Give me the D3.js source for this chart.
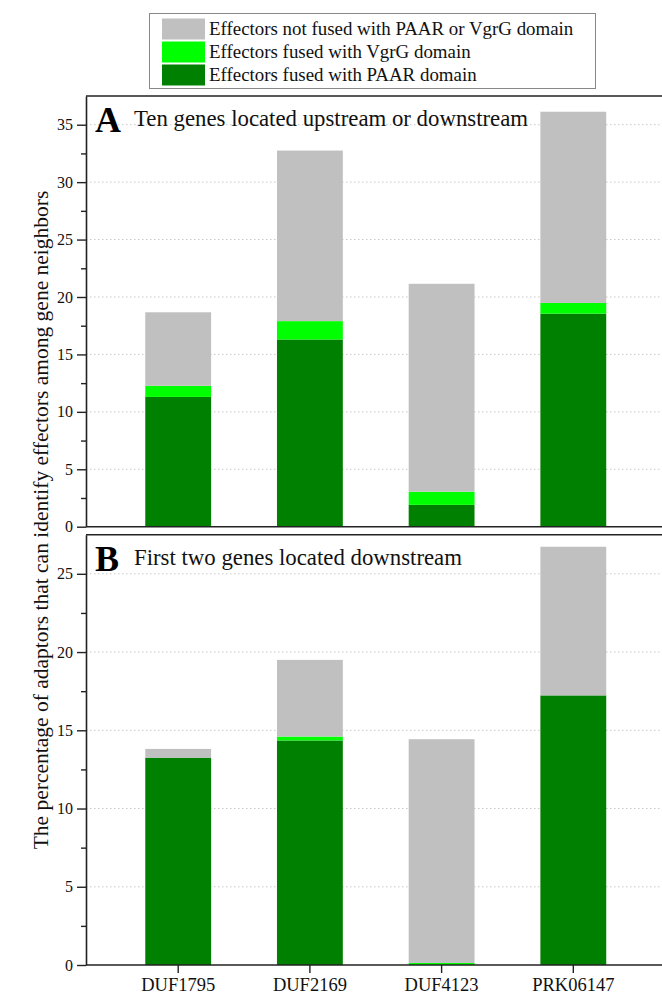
<!DOCTYPE html>
<html>
<head>
<meta charset="utf-8">
<script src="https://cdn.jsdelivr.net/npm/d3@7"></script>
<style>
  body { margin: 0; background: #fff; }
  svg { display: block; }
  svg text { font-family: "Liberation Serif", "Times New Roman", serif !important; }
</style>
</head>
<body>
<svg id="chart" width="662" height="996"></svg>
<script>
// categories and series (percent of adaptors)
const categories = ["DUF1795", "DUF2169", "DUF4123", "PRK06147"];
const seriesKeys = ["paar", "vgrg", "notFused"];
const seriesLabels = {
  notFused: "Effectors not fused with PAAR or VgrG domain",
  vgrg: "Effectors fused with VgrG domain",
  paar: "Effectors fused with PAAR domain"
};
const colors = { paar: "#008000", vgrg: "#00ff00", notFused: "#c0c0c0" };

// panel A: ten genes upstream or downstream
const paarA = [11.3, 16.3, 1.9, 18.55];
const vgrgA = [0.97, 1.6, 1.15, 0.93];
const notFusedA = [6.4, 14.85, 18.1, 16.65];
// panel B: first two genes downstream
const paarB = [13.25, 14.35, 0, 17.23];
const vgrgB = [0, 0.25, 0.13, 0];
const notFusedB = [0.56, 4.9, 14.3, 9.5];

const ticksA = [0, 5, 10, 15, 20, 25, 30, 35];
const ticksB = [0, 5, 10, 15, 20, 25];

const root = d3.select("#chart");
const left = 86, right = 665.5;

const x = d3.scaleBand()
  .domain(categories)
  .range([left, right])
  .paddingInner(0.5)
  .paddingOuter(0.45);

function rows(paar, vgrg, notFused) {
  return categories.map((c, i) => ({ cat: c, paar: paar[i], vgrg: vgrg[i], notFused: notFused[i] }));
}

function drawPanel(data, ymax, ticks, top, bottom, letter, title, showXAxis) {
  const y = d3.scaleLinear().domain([0, ymax]).range([bottom, top]);
  const g = root.append("g");

  // dotted grid
  g.selectAll("line.grid")
    .data(ticks.filter(t => t > 0))
    .join("line")
    .attr("x1", left).attr("x2", 662)
    .attr("y1", d => y(d)).attr("y2", d => y(d))
    .attr("stroke", "#c8c8c8")
    .attr("stroke-dasharray", "1.5,2.5");

  // stacked bars
  const stacked = d3.stack().keys(seriesKeys)(data);
  g.selectAll("g.layer")
    .data(stacked)
    .join("g")
    .attr("fill", d => colors[d.key])
    .selectAll("rect")
    .data(d => d)
    .join("rect")
    .attr("x", d => x(d.data.cat))
    .attr("width", x.bandwidth())
    .attr("y", d => y(d[1]))
    .attr("height", d => y(d[0]) - y(d[1]));

  // minor ticks
  const minor = d3.range(2.5, ymax, 5);
  g.append("g")
    .attr("transform", `translate(${left},0)`)
    .call(d3.axisLeft(y).tickValues(minor).tickSize(5).tickFormat(""))
    .call(a => a.select(".domain").remove())
    .selectAll("line").attr("stroke", "#222").attr("stroke-width", 1.4);

  // y axis
  const ya = g.append("g")
    .attr("transform", `translate(${left},0)`)
    .call(d3.axisLeft(y).tickValues(ticks).tickSize(9).tickSizeOuter(0).tickPadding(4));
  ya.select(".domain").attr("stroke", "#222").attr("stroke-width", 1.6);
  ya.selectAll("line").attr("stroke", "#222").attr("stroke-width", 1.4);
  ya.selectAll("text").attr("font-size", 16).attr("fill", "#111");

  // top frame line
  g.append("line")
    .attr("x1", left).attr("x2", 662)
    .attr("y1", top).attr("y2", top)
    .attr("stroke", "#222").attr("stroke-width", 1.6);

  // x axis
  const xa = g.append("g")
    .attr("transform", `translate(0,${bottom})`)
    .call(d3.axisBottom(x).tickSize(showXAxis ? 8 : 0).tickSizeOuter(0).tickPadding(5));
  xa.select(".domain").attr("d", `M${left},0H662`).attr("stroke", "#222").attr("stroke-width", 1.6);
  xa.selectAll("line").attr("stroke", "#222").attr("stroke-width", 1.4);
  xa.selectAll("text")
    .attr("font-size", 18.5).attr("fill", "#111")
    .style("display", showXAxis ? null : "none");

  // panel title
  g.append("text")
    .attr("x", 95).attr("y", top + 36)
    .attr("font-size", 36).attr("font-weight", "bold").attr("fill", "#000")
    .text(letter);
  g.append("text")
    .attr("x", 134).attr("y", top + 30)
    .attr("font-size", 22.8).attr("fill", "#111")
    .text(title);
}

drawPanel(rows(paarA, vgrgA, notFusedA), 37.5, ticksA, 96, 526.7, "A",
  "Ten genes located upstream or downstream", false);
drawPanel(rows(paarB, vgrgB, notFusedB), 27.5, ticksB, 534.7, 965, "B",
  "First two genes located downstream", true);

// y label
root.append("text")
  .attr("transform", "translate(48,520) rotate(-90)")
  .attr("text-anchor", "middle")
  .attr("font-size", 21.5).attr("fill", "#111")
  .text("The percentage of adaptors that can identify effectors among gene neighbors");

// legend
const legendOrder = ["notFused", "vgrg", "paar"];
const lg = root.append("g");
lg.append("rect")
  .attr("x", 149.5).attr("y", 13.5).attr("width", 446).attr("height", 75)
  .attr("fill", "#fff").attr("stroke", "#888").attr("stroke-width", 1);
const items = lg.selectAll("g.item")
  .data(legendOrder)
  .join("g")
  .attr("transform", (d, i) => `translate(162,${18.5 + i * 23})`);
items.append("rect")
  .attr("width", 43).attr("height", 21)
  .attr("fill", d => colors[d]);
items.append("text")
  .attr("x", 47).attr("y", 16.5)
  .attr("font-size", 18.9).attr("fill", "#111")
  .text(d => seriesLabels[d]);
</script>
</body>
</html>
